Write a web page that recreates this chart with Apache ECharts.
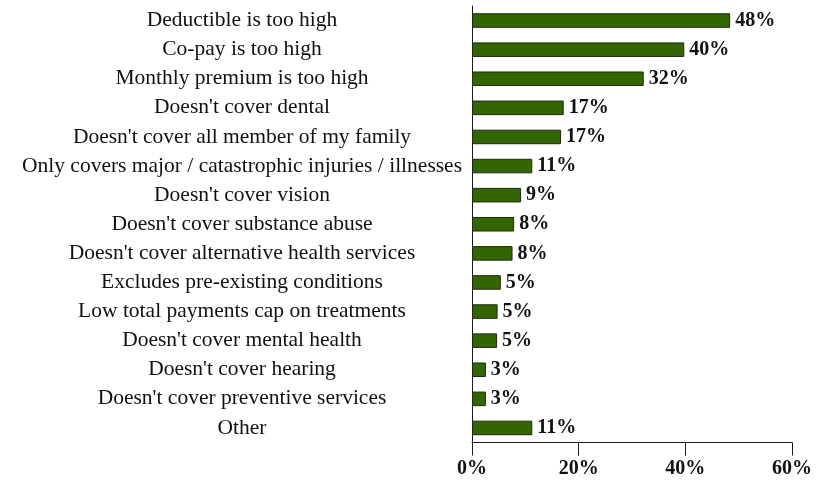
<!DOCTYPE html>
<html>
<head>
<meta charset="utf-8">
<script src="https://cdn.jsdelivr.net/npm/echarts@6/dist/echarts.min.js"></script>
<style>html,body{margin:0;padding:0;background:#fff}#c{width:822px;height:483px}</style>
</head>
<body>
<div id="c"></div>
<script>
const categories = [
  "Deductible is too high",
  "Co-pay is too high",
  "Monthly premium is too high",
  "Doesn't cover dental",
  "Doesn't cover all member of my family",
  "Only covers major / catastrophic injuries / illnesses",
  "Doesn't cover vision",
  "Doesn't cover substance abuse",
  "Doesn't cover alternative health services",
  "Excludes pre-existing conditions",
  "Low total payments cap on treatments",
  "Doesn't cover mental health",
  "Doesn't cover hearing",
  "Doesn't cover preventive services",
  "Other"
];
const values = [48.4, 39.8, 32.2, 17.2, 16.7, 11.3, 9.2, 7.9, 7.6, 5.4, 4.8, 4.7, 2.6, 2.6, 11.3];
const valueLabels = ["48%", "40%", "32%", "17%", "17%", "11%", "9%", "8%", "8%", "5%", "5%", "5%", "3%", "3%", "11%"];
const xTicks = [0, 20, 40, 60];

const serif = "'Liberation Serif', 'DejaVu Serif', serif";
const chart = echarts.init(document.getElementById('c'), null, {renderer: 'canvas'});
chart.setOption({
  animation: false,
  grid: {left: 472, right: 30, top: 6, bottom: 40.5, containLabel: false},
  xAxis: {
    type: 'value', min: xTicks[0], max: xTicks[xTicks.length - 1], interval: 20,
    splitLine: {show: false},
    axisLine: {show: true, lineStyle: {color: '#1a1a1a', width: 1}},
    axisTick: {show: true, length: 13, lineStyle: {color: '#1a1a1a'}},
    axisLabel: {formatter: v => v + '%', fontFamily: serif, fontWeight: 'bold', fontSize: 20, color: '#111', margin: 16}
  },
  yAxis: {
    type: 'category', data: categories, inverse: true,
    axisLine: {show: true, lineStyle: {color: '#1a1a1a', width: 1}},
    axisTick: {show: false},
    axisLabel: {fontFamily: serif, fontSize: 21.5, color: '#111', align: 'center', margin: 230}
  },
  series: [{
    type: 'bar', data: values, barWidth: '50%',
    itemStyle: {color: '#336600', borderColor: '#1f2a10', borderWidth: 1},
    label: {show: true, position: 'right', distance: 5, formatter: p => valueLabels[p.dataIndex],
      fontFamily: serif, fontWeight: 'bold', fontSize: 20, color: '#111'}
  }]
});
</script>
</body>
</html>
